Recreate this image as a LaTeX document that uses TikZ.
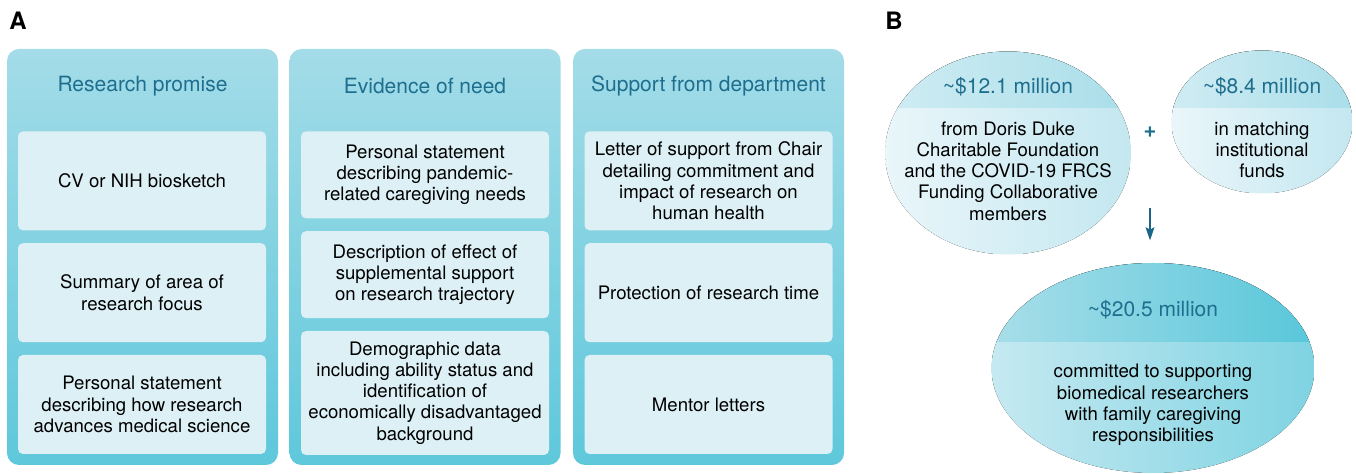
\documentclass[tikz,border=0pt]{standalone}
\usepackage{fontspec}
\setmainfont{TeX Gyre Heros}
\usetikzlibrary{positioning,chains,scopes,shapes.geometric,arrows.meta}

\definecolor{panelTop}{HTML}{A4DCE8}
\definecolor{panelBottom}{HTML}{5EC8DB}
\definecolor{itemBg}{HTML}{DCF0F5}
\definecolor{titleBlue}{HTML}{1E6E8E}
\definecolor{arrowBlue}{HTML}{1B6688}
\definecolor{paleHigh}{HTML}{D0ECF3}
\definecolor{paleHighR}{HTML}{A9DEE9}
\definecolor{paleLow}{HTML}{E9F6FA}
\definecolor{paleLowR}{HTML}{C4E7F0}
\definecolor{deepHigh}{HTML}{A8DEE9}
\definecolor{deepHighR}{HTML}{58C7DA}
\definecolor{deepLow}{HTML}{C5E9F1}
\definecolor{deepLowR}{HTML}{7FD3E2}

\begin{document}
\begin{tikzpicture}[
  x=0.5pt, y=-0.5pt,
  node distance = 6pt,
  panel/.style={
    rounded corners=6pt,
    minimum width=135.5pt,
    minimum height=208pt,
    top color=panelTop,
    bottom color=panelBottom,
    inner sep=0pt,
  },
  panel title/.style={
    text=titleBlue,
    font=\fontsize{10.5}{12}\selectfont,
  },
  panel label/.style={
    anchor=base west,
    inner sep=0pt,
    font=\fontsize{12}{14}\selectfont\bfseries,
  },
  item box/.style={
    fill=itemBg,
    rounded corners=2.5pt,
    minimum width=124pt,
    minimum height=#1,
    inner sep=0pt,
    align=center,
    font=\fontsize{9.3}{10.6}\selectfont,
  },
  disc band/.store in=\discband,
  disc band=0pt,
  fund disc/.style 2 args={
    ellipse,
    inner sep=0pt,
    minimum width=#1,
    minimum height=#2,
  },
  pale disc/.style={
    path picture={
      \fill[left color=paleLow, right color=paleLowR]
        (path picture bounding box.south west) rectangle (path picture bounding box.north east);
      \fill[left color=paleHigh, right color=paleHighR]
        (path picture bounding box.north west) rectangle ([yshift=\discband]path picture bounding box.east);
    },
  },
  deep disc/.style={
    path picture={
      \fill[left color=deepLow, right color=deepLowR]
        (path picture bounding box.south west) rectangle (path picture bounding box.north east);
      \fill[left color=deepHigh, right color=deepHighR]
        (path picture bounding box.north west) rectangle ([yshift=\discband]path picture bounding box.east);
    },
  },
  disc title/.style={
    text=titleBlue,
    font=\fontsize{10.5}{12}\selectfont,
  },
  disc text/.style={
    align=center,
    inner sep=0pt,
    font=\fontsize{9.3}{10.6}\selectfont,
  },
  sum arrow/.style={
    draw=arrowBlue,
    line width=1.3pt,
    -{Stealth[length=6.5pt,width=4.2pt,inset=1pt]},
  },
  ]
  \useasboundingbox (0,0) rectangle (1356,474);

  % panel A
  \node[panel label] (label-a) at (9,30) {A};
  \node[panel] (promise-panel) at (142.5,257) {};
  \node[panel] (need-panel) at (425,257) {};
  \node[panel] (support-panel) at (708.5,257) {};
  \node[panel title] (promise-title) at (142.5,86) {Research promise};
  \node[panel title] (need-title) at (425,86) {Evidence of need};
  \node[panel title] (support-title) at (708.5,86) {Support from department};

  {[start chain=going below]
    \node[on chain,item box=49.5pt,anchor=north] (promise-cv) at (142,131) {CV or NIH biosketch};
    \node[on chain,item box=49.5pt] (promise-summary) {Summary of area of\\research focus};
    \node[on chain,item box=49.5pt] (promise-statement) {Personal statement\\describing how research\\advances medical science};
  }
  {[start chain=going below]
    \node[on chain,item box=43.5pt,anchor=north] (need-statement) at (425,131) {Personal statement\\describing pandemic-\\related caregiving needs};
    \node[on chain,item box=43.5pt] (need-effect) {Description of effect of\\supplemental support\\on research trajectory};
    \node[on chain,item box=62pt] (need-demographic) {Demographic data\\including ability status and\\identification of\\economically disadvantaged\\background};
  }
  {[start chain=going below]
    \node[on chain,item box=49.5pt,anchor=north] (support-letter) at (708.5,131) {Letter of support from Chair\\detailing commitment and\\impact of research on\\human health};
    \node[on chain,item box=49.5pt] (support-time) {Protection of research time};
    \node[on chain,item box=49.5pt] (support-mentor) {Mentor letters};
  }

  % panel B
  \node[panel label] (label-b) at (885,30) {B};
  \node[fund disc={123pt}{101.5pt},pale disc,disc band=22.5pt] (duke-disc) at (1008,153) {};
  \node[fund disc={90.5pt}{71.5pt},pale disc,disc band=7pt] (match-disc) at (1262,122) {};
  \node[fund disc={161.5pt}{105pt},deep disc,disc band=13pt] (total-disc) at (1153,368) {};

  \node[disc title] (duke-title) at (1008,87) {\textasciitilde\$12.1 million};
  \node[disc text] (duke-text) at (1008,171) {from Doris Duke\\Charitable Foundation\\and the COVID-19 FRCS\\Funding Collaborative\\members};
  \node[disc title] (match-title) at (1262,87) {\textasciitilde\$8.4 million};
  \node[disc text] (match-text) at (1262,150) {in matching\\institutional\\funds};
  \node[disc title] (total-title) at (1153,310) {\textasciitilde\$20.5 million};
  \node[disc text] (total-text) at (1153,405) {committed to supporting\\biomedical researchers\\with family caregiving\\responsibilities};

  \node[text=titleBlue,font=\fontsize{11}{12}\selectfont\bfseries] (plus-sign) at (1150,132) {+};
  \coordinate (sum-start) at (1150,208);
  \draw[sum arrow,shorten >=11pt] (sum-start) -- (sum-start |- total-disc.north);
\end{tikzpicture}
\end{document}
